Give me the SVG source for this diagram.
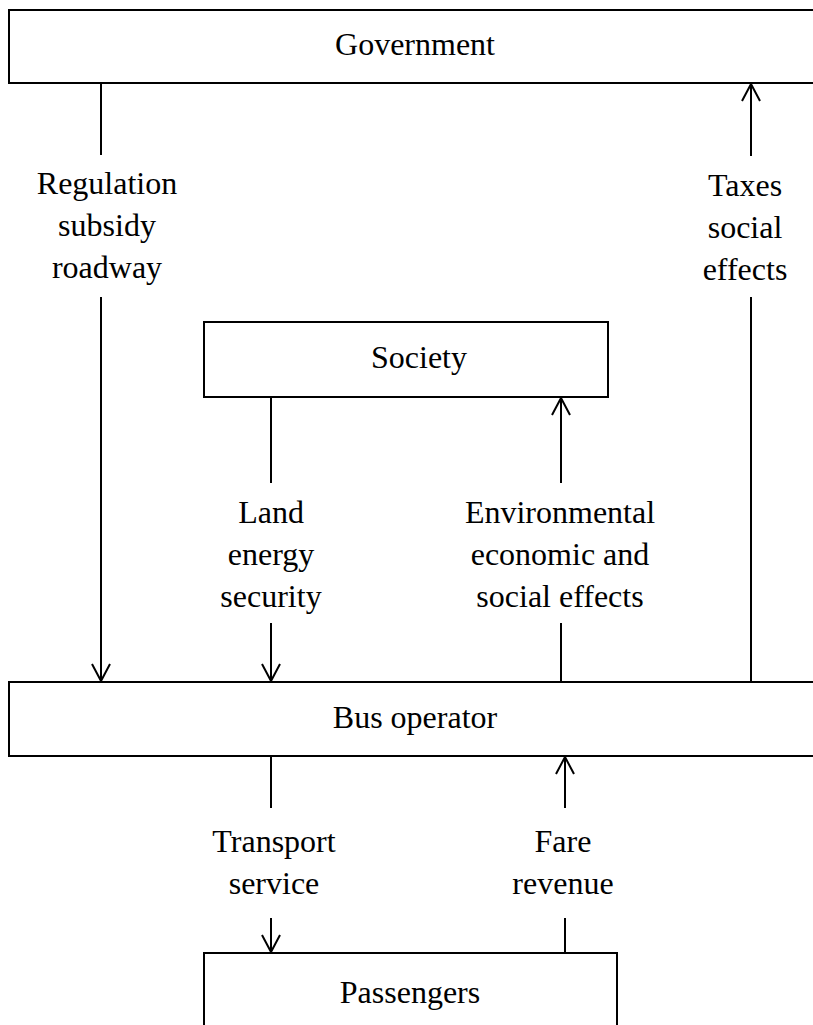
<svg xmlns="http://www.w3.org/2000/svg" width="813" height="1025" viewBox="0 0 813 1025">
  <style>
    .box { fill: #fff; stroke: #000; stroke-width: 2; }
    .lbl { font-family: "Liberation Serif", "Times New Roman", serif; font-size: 32px; fill: #000; text-anchor: middle; }
    .ln { stroke: #000; stroke-width: 2; fill: none; }
  </style>
  <defs>
    <marker id="arr" markerWidth="20" markerHeight="22" viewBox="-19 -11 20 22" refX="0" refY="0" orient="auto" markerUnits="userSpaceOnUse">
      <path d="M-17,-9 L0,0 L-17,9" fill="none" stroke="#000" stroke-width="2"/>
    </marker>
  </defs>

  <g id="government">
    <rect class="box" x="9" y="10" width="820" height="73"/>
    <text class="lbl" x="415" y="55">Government</text>
  </g>

  <g id="society">
    <rect class="box" x="204" y="322" width="404" height="75"/>
    <text class="lbl" x="419" y="368">Society</text>
  </g>

  <g id="bus-operator">
    <rect class="box" x="9" y="682" width="820" height="74"/>
    <text class="lbl" x="415" y="728">Bus operator</text>
  </g>

  <g id="passengers">
    <rect class="box" x="204" y="953" width="413" height="100"/>
    <text class="lbl" x="410" y="1003">Passengers</text>
  </g>

  <g id="connectors">
    <!-- Government -> Bus operator -->
    <line class="ln" x1="101" y1="83" x2="101" y2="155"/>
    <line class="ln" x1="101" y1="297" x2="101" y2="681" marker-end="url(#arr)"/>
    <text class="lbl" x="107" y="194">Regulation</text>
    <text class="lbl" x="107" y="236">subsidy</text>
    <text class="lbl" x="107" y="278">roadway</text>

    <!-- Bus operator -> Government -->
    <line class="ln" x1="751" y1="682" x2="751" y2="297"/>
    <line class="ln" x1="751" y1="156" x2="751" y2="84" marker-end="url(#arr)"/>
    <text class="lbl" x="745" y="196">Taxes</text>
    <text class="lbl" x="745" y="238">social</text>
    <text class="lbl" x="745" y="280">effects</text>

    <!-- Society -> Bus operator -->
    <line class="ln" x1="271" y1="397" x2="271" y2="483"/>
    <line class="ln" x1="271" y1="623" x2="271" y2="681" marker-end="url(#arr)"/>
    <text class="lbl" x="271" y="523">Land</text>
    <text class="lbl" x="271" y="565">energy</text>
    <text class="lbl" x="271" y="607">security</text>

    <!-- Bus operator -> Society -->
    <line class="ln" x1="561" y1="682" x2="561" y2="623"/>
    <line class="ln" x1="561" y1="483" x2="561" y2="398" marker-end="url(#arr)"/>
    <text class="lbl" x="560" y="523">Environmental</text>
    <text class="lbl" x="560" y="565">economic and</text>
    <text class="lbl" x="560" y="607">social effects</text>

    <!-- Bus operator -> Passengers -->
    <line class="ln" x1="271" y1="756" x2="271" y2="808"/>
    <line class="ln" x1="271" y1="918" x2="271" y2="952" marker-end="url(#arr)"/>
    <text class="lbl" x="274" y="852">Transport</text>
    <text class="lbl" x="274" y="894">service</text>

    <!-- Passengers -> Bus operator -->
    <line class="ln" x1="565" y1="953" x2="565" y2="918"/>
    <line class="ln" x1="565" y1="808" x2="565" y2="757" marker-end="url(#arr)"/>
    <text class="lbl" x="563" y="852">Fare</text>
    <text class="lbl" x="563" y="894">revenue</text>
  </g>
</svg>
